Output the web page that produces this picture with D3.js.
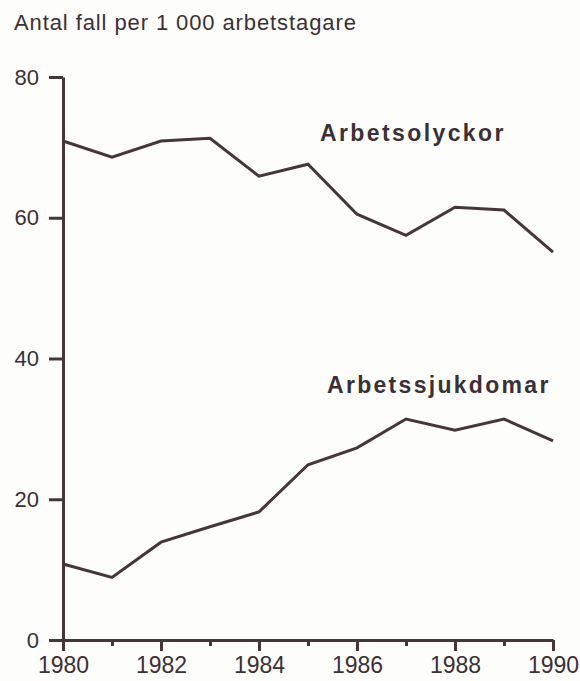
<!DOCTYPE html>
<html>
<head>
<meta charset="utf-8">
<script src="https://cdn.jsdelivr.net/npm/d3@7"></script>
<style>
  html, body { margin: 0; padding: 0; background: #fdfdfb; }
  svg { display: block; }
  text { font-family: "Liberation Sans", Arial, Helvetica, sans-serif; fill: #3a3035; }
</style>
</head>
<body>
<script>
const years = [1980, 1981, 1982, 1983, 1984, 1985, 1986, 1987, 1988, 1989, 1990];
const arbetsolyckor = [70.9, 68.6, 70.9, 71.3, 65.9, 67.6, 60.5, 57.5, 61.5, 61.1, 55.1];
const arbetssjukdomar = [10.8, 8.9, 13.9, 16.1, 18.2, 24.9, 27.3, 31.4, 29.8, 31.4, 28.3];
const yTicks = [0, 20, 40, 60, 80];
const xLabelYears = [1980, 1982, 1984, 1986, 1988, 1990];
const yTitle = "Antal fall per 1 000 arbetstagare";
const seriesNames = ["Arbetsolyckor", "Arbetssjukdomar"];

const W = 580, H = 681;
const ink = "#45363b";
const svg = d3.select("body").append("svg").attr("width", W).attr("height", H);

const x = d3.scaleLinear().domain([1980, 1990]).range([63, 553]);
const y = d3.scaleLinear().domain([0, 80]).range([640, 77]);

// title
svg.append("text").attr("x", 14).attr("y", 30)
  .attr("font-size", 22).attr("letter-spacing", 0.9)
  .text(yTitle);

// y axis
const yAxis = svg.append("g").attr("transform", `translate(${x(1980)},0)`)
  .call(d3.axisLeft(y).tickValues(yTicks).tickSize(14).tickSizeOuter(0).tickPadding(10).tickFormat(d3.format("d")));
// x axis
const xAxis = svg.append("g").attr("transform", `translate(0,${y(0)})`)
  .call(d3.axisBottom(x).tickValues(years).tickSize(11).tickSizeOuter(0).tickPadding(6)
    .tickFormat(d => xLabelYears.includes(d) ? String(d) : ""));

xAxis.selectAll(".tick line").attr("y2", d => xLabelYears.includes(d) ? 11 : 6);

[yAxis, xAxis].forEach(g => {
  g.selectAll("path.domain").attr("stroke", ink).attr("stroke-width", 3);
  g.selectAll(".tick line").attr("stroke", ink).attr("stroke-width", 3);
  g.selectAll(".tick text").attr("font-size", 22).attr("fill", "#3a3035")
    .style("font-family", '"Liberation Sans", Arial, sans-serif');
});
xAxis.selectAll(".tick text").attr("font-size", 23);

// lines
const line = d3.line().x((d, i) => x(years[i])).y(d => y(d));
[arbetsolyckor, arbetssjukdomar].forEach(s => {
  svg.append("path").datum(s).attr("d", line)
    .attr("fill", "none").attr("stroke", ink).attr("stroke-width", 3)
    .attr("stroke-linejoin", "miter");
});

// series labels
svg.append("text").attr("x", 320).attr("y", 141)
  .attr("font-size", 23).attr("font-weight", "bold").attr("letter-spacing", 2.4)
  .text(seriesNames[0]);
svg.append("text").attr("x", 327).attr("y", 393)
  .attr("font-size", 23).attr("font-weight", "bold").attr("letter-spacing", 2.3)
  .text(seriesNames[1]);
</script>
</body>
</html>
